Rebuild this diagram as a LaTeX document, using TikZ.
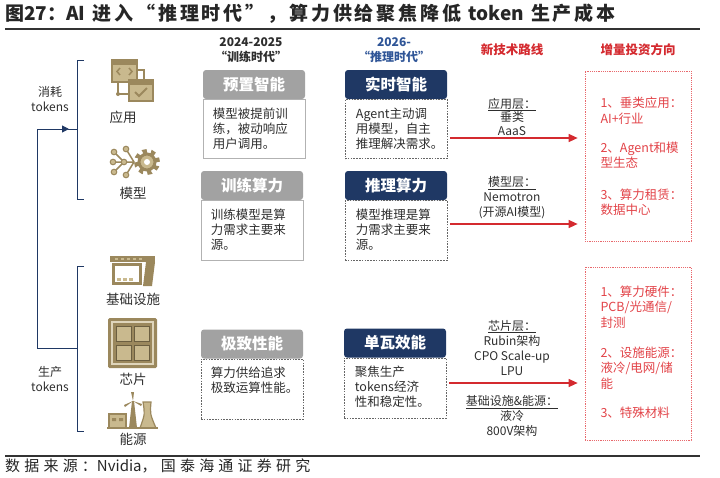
\documentclass[tikz,border=0pt]{standalone}
\usepackage{fontspec}
\setmainfont{Noto Sans CJK SC}
\newfontfamily\titlefont{Noto Sans CJK SC}[LetterSpace=15]
\newfontfamily\srcfont{Noto Sans CJK SC}[LetterSpace=28]
\newcommand{\plainlatin}[1]{{\addfontfeature{LetterSpace=0}#1}}
\usetikzlibrary{positioning,arrows.meta}
\definecolor{navy}{HTML}{1F3864}
\definecolor{eragray}{HTML}{A2A2A2}
\definecolor{erablue}{HTML}{2F5597}
\definecolor{routered}{HTML}{D42A2F}
\definecolor{investred}{HTML}{E24348}
\definecolor{iconbrown}{HTML}{9B885D}
\definecolor{iconlight}{HTML}{C9B98E}
\definecolor{bodytext}{HTML}{2E2E2E}
\begin{document}
\begin{tikzpicture}[x=1pt,y=-1pt,
    hdr/.style={rounded corners=3pt,minimum width=102pt,minimum height=29pt,inner sep=0pt,text=white,font=\fontsize{15.5}{16}\selectfont\bfseries},
    grayhdr/.style={hdr,fill=eragray},
    bluehdr/.style={hdr,fill=navy},
    descbox/.style={minimum width=102pt,minimum height=#1,inner sep=0pt,line width=0.6pt},
    descbox/.default=59pt,
    solidframe/.style={draw=black!30},
    dashframe/.style={draw=black!60,dash pattern=on 1.6pt off 1.2pt},
    desctext/.style={anchor=north west,align=left,inner sep=0pt,text=bodytext,font=\fontsize{12.5}{15}\selectfont},
    eralabel/.style={align=center,font=\fontsize{12}{15}\selectfont\bfseries},
    routehead/.style={text=routered,font=\fontsize{12.5}{14}\selectfont\bfseries},
    routetext/.style={align=center,text=bodytext,font=\fontsize{12}{15}\selectfont},
    investbox/.style={draw=investred!80,dash pattern=on 1.2pt off 1pt,line width=0.7pt,minimum width=106pt,inner sep=0pt},
    investtext/.style={anchor=west,align=left,text=investred,font=\fontsize{12.5}{15.5}\selectfont},
    routearrow/.style={draw=routered,line width=1.3pt,-{Triangle[length=9pt,width=8pt]},shorten <=3pt,shorten >=7pt},
    iconlabel/.style={text=bodytext,font=\fontsize{13.5}{14}\selectfont},
    sidelabel/.style={align=center,text=bodytext,font=\fontsize{12}{15}\selectfont},
    bracket/.style={draw=navy,line width=1pt}]
  \useasboundingbox (0,0) rectangle (720,477);

  % title and rules
  \node[anchor=west,inner sep=0pt,text=black!85,font=\titlefont\fontsize{19}{20}\selectfont\bfseries] (title) at (5,14) {图\plainlatin{27}：\plainlatin{AI} 进入“推理时代”，算力供给聚焦降低 \plainlatin{token} 生产成本};
  \draw[black!80,line width=1.5pt] (5,29) -- (700,29);
  \draw[black!80,line width=1.2pt] (5,456) -- (700,456);
  \node[anchor=west,inner sep=0pt,text=black!85,font=\srcfont\fontsize{15}{16}\selectfont] (source) at (5,466) {数据来源：\plainlatin{Nvidia}，国泰海通证券研究};

  % column heads
  \node[eralabel,text=bodytext] (era1) at (251,50) {2024-2025\\“训练时代”};
  \node[eralabel,text=erablue] (era2) at (394,50) {2026-\\“推理时代”};
  \node[routehead] (route) at (512,50) {新技术路线};
  \node[routehead] (invest) at (638,50) {增量投资方向};

  % training era
  \node[grayhdr] (h1) at (254,84.5) {预置智能};
  \node[descbox,solidframe,below=0pt of h1] (d1) {};
  \node[desctext] (t1) at ([shift={(10pt,-9pt)}]d1.north west) {模型被提前训\\练，被动响应\\用户调用。};
  \node[grayhdr] (h2) at (252,185.5) {训练算力};
  \node[descbox=60pt,solidframe,below=0pt of h2] (d2) {};
  \node[desctext] (t2) at ([shift={(10pt,-9pt)}]d2.north west) {训练模型是算\\力需求主要来\\源。};
  \node[grayhdr] (h3) at (252,344) {极致性能};
  \node[descbox=60pt,dashframe,below=0pt of h3] (d3) {};
  \node[desctext] (t3) at ([shift={(10pt,-8pt)}]d3.north west) {算力供给追求\\极致运算性能。};

  % inference era
  \node[bluehdr] (h4) at (396,84.5) {实时智能};
  \node[descbox,dashframe,below=0pt of h4] (d4) {};
  \node[desctext] (t4) at ([shift={(11pt,-9pt)}]d4.north west) {Agent主动调\\用模型，自主\\推理解决需求。};
  \node[bluehdr] (h5) at (396,185.5) {推理算力};
  \node[descbox=60pt,dashframe,below=0pt of h5] (d5) {};
  \node[desctext] (t5) at ([shift={(11pt,-9pt)}]d5.north west) {模型推理是算\\力需求主要来\\源。};
  \node[bluehdr] (h6) at (395,343) {单瓦效能};
  \node[descbox=60pt,dashframe,below=0pt of h6] (d6) {};
  \node[desctext] (t6) at ([shift={(11pt,-8pt)}]d6.north west) {聚焦生产\\tokens经济\\性和稳定性。};

  % new technical routes
  \node[routetext,font=\fontsize{12}{13.5}\selectfont] (app) at (512,116.5) {\underline{应用层：}\\垂类\\AaaS};
  \node[routetext] (modl) at (512,198) {\underline{模型层：}\\Nemotron\\(开源AI模型)};
  \node[routetext,font=\fontsize{12}{15.3}\selectfont] (chip) at (512,348) {\underline{芯片层：}\\Rubin架构\\CPO Scale-up\\LPU};
  \node[routetext] (infra) at (512,416) {\underline{基础设施\&能源：}\\液冷\\800V架构};

  % investment directions
  \node[investbox,minimum height=170pt] (rbox1) at (638,156) {};
  \node[investtext] (i1) at (597,110.5) {1、垂类应用：\\AI+行业};
  \node[investtext] (i2) at (597,155) {2、Agent和模\\型生态};
  \node[investtext] (i3) at (597,202) {3、算力租赁：\\数据中心};
  \node[investbox,minimum height=173pt] (rbox2) at (638,353.5) {};
  \node[investtext] (i4) at (597,307) {1、算力硬件：\\PCB/光通信/\\封测};
  \node[investtext] (i5) at (597,368) {2、设施能源：\\液冷/电网/储\\能};
  \node[investtext] (i6) at (597,413) {3、特殊材料};

  \coordinate (a1) at (450,138);
  \coordinate (a2) at (450,224);
  \coordinate (a3) at (450,383);
  \draw[routearrow] (d4.east |- a1) -- (a1 -| rbox1.west);
  \draw[routearrow] (d5.east |- a2) -- (a2 -| rbox1.west);
  \draw[routearrow] (d6.east |- a3) -- (a3 -| rbox2.west);

  % consume / produce brackets
  \coordinate (cons) at (77,129);
  \coordinate (prod) at (77,348);
  \coordinate (trunk) at (37,348);
  \draw[bracket] (84,60) -- (77,60) -- (77,199) -- (84,199);
  \draw[bracket] (84,266) -- (77,266) -- (77,431) -- (84,431);
  \draw[bracket,-{Triangle[length=7pt,width=7pt]}] (prod) -- (trunk) |- ([xshift=-8pt]cons);
  \draw[bracket] ([xshift=-9pt]cons) -- (cons);
  \node[sidelabel] (use) at (50,99.5) {消耗\\tokens};
  \node[sidelabel] (make) at (50,379.5) {生产\\tokens};

  % icon: application
  \filldraw[fill=iconlight,draw=iconbrown,line width=1.2pt] (112,60) rectangle (137,82);
  \fill[iconbrown] (112,60) rectangle (137,65);
  \draw[iconbrown,line width=1.5pt] (120,68) -- (117,71.5) -- (120,75) (129,68) -- (132,71.5) -- (129,75);
  \draw[iconbrown,line width=1.2pt] (118,82) -- (118,94) -- (129,94);
  \fill[iconbrown] (118,94) circle (2pt);
  \draw[iconbrown,line width=1.2pt] (137,70) -- (144,70) -- (144,80);
  \filldraw[fill=iconlight,draw=iconbrown,line width=1.2pt] (129,80) rectangle (153,101);
  \fill[iconbrown] (129,80) rectangle (153,85);
  \draw[iconbrown,line width=2pt] (135,92) -- (139,96) -- (147,88);
  \node[iconlabel] (lapp) at (123,117) {应用};

  % icon: model
  \draw[iconbrown,line width=1.5pt] (114,152) -- (124,162) -- (114,172) (126,149) -- (134,162) -- (126,175) (113,162) -- (134,162);
  \foreach \p in {(114,152),(114,172),(126,149),(126,175),(113,162),(124,162)}
    \filldraw[fill=iconlight,draw=iconbrown,line width=1pt] \p circle (2.8pt);
  \draw[iconbrown,line width=4pt,dash pattern=on 4.32pt off 4.32pt] (147,162) circle (11pt);
  \filldraw[fill=iconlight,draw=iconbrown,line width=3pt] (147,162) circle (8pt);
  \fill[white] (147,162) circle (3pt);
  \node[iconlabel] (lmod) at (133,193) {模型};

  % icon: infrastructure
  \fill[iconbrown] (110,256) rectangle (155,262);
  \foreach \x in {115,121,127,133,139}
    \fill[iconlight] (\x,258) rectangle ++(3,2);
  \draw[iconbrown,line width=3pt] (113,264.5) rectangle (140,283.5);
  \fill[iconbrown] (146,262) -- (155,262) -- (152,286) -- (143,286) -- cycle;
  \foreach \x in {117,123,129}
    \fill[iconlight] (\x,278) rectangle ++(4,3);
  \node[iconlabel] (linf) at (133,299) {基础设施};

  % icon: chip
  \fill[iconbrown,rounded corners=1.5pt] (108,318) rectangle (157,368);
  \fill[iconlight!60] (111,321) rectangle (154,365);
  \fill[iconbrown] (113,323) rectangle (152,363);
  \foreach \x/\y in {116/326,134/326,116/345,134/345}
    \filldraw[fill=iconlight,draw=iconbrown!70!black,line width=0.8pt] (\x,\y) rectangle ++(15,15);
  \node[iconlabel] (lchip) at (133,379) {芯片};

  % icon: energy
  \filldraw[fill=iconlight,draw=iconbrown,line width=1.2pt] (109,414) rectangle (126,428);
  \fill[iconbrown] (112,418) rectangle (116,421) (119,418) rectangle (123,421);
  \fill[iconbrown] (129,428) -- (132,401) -- (134,401) -- (137,428) -- cycle;
  \fill[iconbrown] (133,401) -- (131,392) -- (134,392) -- cycle;
  \fill[iconbrown] (133,401) -- (124,405) -- (125,407) -- cycle;
  \fill[iconbrown] (133,401) -- (141,406) -- (142,404) -- cycle;
  \filldraw[fill=iconlight,draw=iconbrown,line width=1.2pt] (140,428) .. controls (145,414) .. (143,402) -- (151,402) .. controls (150,414) .. (156,428) -- cycle;
  \draw[iconbrown,line width=1.5pt] (107,428) -- (158,428);
  \node[iconlabel] (lpow) at (133,439) {能源};
\end{tikzpicture}
\end{document}
